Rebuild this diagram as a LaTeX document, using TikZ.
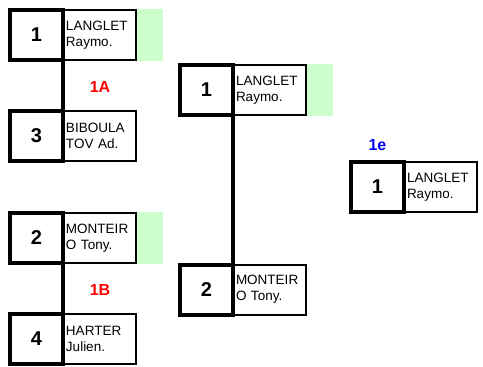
\documentclass[tikz,border=0pt]{standalone}
\usepackage{fontspec}
\setmainfont{Liberation Sans}
\usetikzlibrary{positioning}
\definecolor{winner}{RGB}{204,255,204}
\definecolor{poolred}{RGB}{255,0,0}
\definecolor{poolblue}{RGB}{0,0,255}

\begin{document}
\begin{tikzpicture}[
          x=1pt, y=-1pt,
          seed/.style={
              rectangle, draw, line width=4pt, outer sep=0pt, inner sep=0pt,
              minimum width=53pt, minimum height=50pt,
              font=\bfseries\fontsize{20}{22}\selectfont
          },
          player/.style={
              rectangle, draw, line width=2pt, inner sep=2pt,
              minimum width=72pt, minimum height=50pt,
              text width=68pt, align=left,
              font=\fontsize{13.5}{16}\selectfont
          },
          qualified/.style={
              rectangle, fill=winner, inner sep=0pt,
              minimum width=26pt, minimum height=52pt
          },
          pool/.style={font=\bfseries\fontsize{16}{18}\selectfont},
          wire/.style={line width=3.5pt},
      ]
          \useasboundingbox (0,0) rectangle (483,367);

          % First round, pool 1A
          \node [seed] (s1) at (36.5,35) {1};
          \node [player, right=0pt of s1] (p1) {LANGLET\\Raymo.};
          \node [qualified, right=0pt of p1] (q1) {};
          \node [seed] (s3) at (36.5,136) {3};
          \node [player, right=0pt of s3] (p3) {BIBOULA\\TOV Ad.};
          \node [pool, text=poolred] (pA) at (100,87) {1A};

          % First round, pool 1B
          \node [seed] (s2) at (36.5,238) {2};
          \node [player, right=0pt of s2] (p2) {MONTEIR\\O Tony.};
          \node [qualified, right=0pt of p2] (q2) {};
          \node [seed] (s4) at (36.5,339) {4};
          \node [player, right=0pt of s4] (p4) {HARTER\\Julien.};
          \node [pool, text=poolred] (pB) at (100,290) {1B};

          % Second round
          \node [seed] (r1) at (206.5,90) {1};
          \node [player, right=0pt of r1] (rp1) {LANGLET\\Raymo.};
          \node [qualified, right=0pt of rp1] (rq1) {};
          \node [seed] (r2) at (206.5,289.5) {2};
          \node [player, right=0pt of r2] (rp2) {MONTEIR\\O Tony.};

          % Final place
          \node [seed] (f1) at (377.5,187) {1};
          \node [player, right=0pt of f1] (fp1) {LANGLET\\Raymo.};
          \node [pool, text=poolblue, above=8pt of f1] (pE) {1e};

          % Links
          \draw [wire] (s1.south east) -- (s3.north east);
          \draw [wire] (s2.south east) -- (s4.north east);
          \draw [wire] (r1.south east) -- (r2.north east);
        \end{tikzpicture}
\end{document}
